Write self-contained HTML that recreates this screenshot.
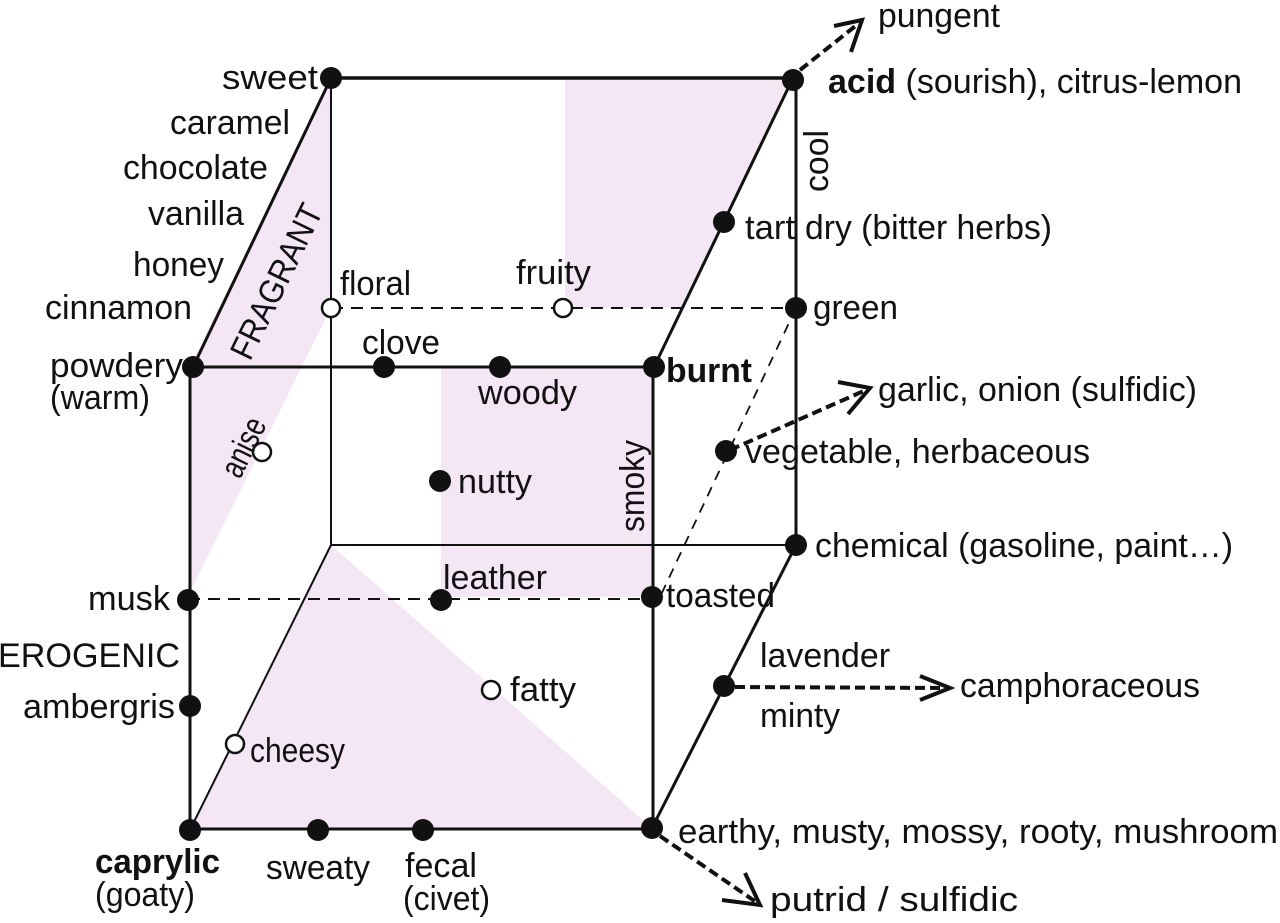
<!DOCTYPE html>
<html><head><meta charset="utf-8"><style>
html,body{margin:0;padding:0;background:#fff;}
svg{display:block;}
text{font-family:"Liberation Sans",Arial,sans-serif;font-size:34px;fill:#111;}
</style></head><body>
<svg width="1280" height="923" viewBox="0 0 1280 923" xmlns="http://www.w3.org/2000/svg">
<g fill="#f4e6f4" stroke="none">
<polygon points="331,78 331,308 190,592 190,367"/>
<polygon points="565,78 793,78 683,308 565,308"/>
<rect x="441" y="367" width="213" height="230"/>
<polygon points="331,545 652,828 190,830"/>
</g>
<g stroke="#111" fill="none">
<line x1="331" y1="78" x2="331" y2="545" stroke-width="2"/>
<line x1="331" y1="545" x2="796" y2="545" stroke-width="2"/>
<line x1="331" y1="545" x2="190" y2="830" stroke-width="2"/>
<line x1="331" y1="78" x2="793" y2="78" stroke-width="3.5"/>
<line x1="331" y1="78" x2="193" y2="367" stroke-width="3"/>
<line x1="793" y1="78" x2="654" y2="367" stroke-width="3"/>
<line x1="796" y1="78" x2="796" y2="545" stroke-width="3"/>
<line x1="796" y1="545" x2="652" y2="828" stroke-width="3"/>
<rect x="190" y="367" width="463" height="462" stroke-width="3"/>
<line x1="331" y1="308" x2="796" y2="308" stroke-width="2" stroke-dasharray="12,8"/>
<line x1="188" y1="599" x2="652" y2="599" stroke-width="2" stroke-dasharray="12,8"/>
<line x1="796" y1="308" x2="660" y2="597" stroke-width="1.8" stroke-dasharray="10,8"/>
<g stroke-width="4" stroke-dasharray="10,5">
<line x1="800" y1="70" x2="858" y2="24"/>
<line x1="730" y1="450" x2="866" y2="390"/>
<line x1="735" y1="687" x2="946" y2="688"/>
<line x1="660" y1="836" x2="756" y2="902"/>
</g>
<g stroke-width="4">
<polyline points="834,26 862,20 851,52"/>
<polyline points="838,382 870,388 848,414"/>
<polyline points="920,676 950,688 920,700"/>
<polyline points="745,873 760,905 722,900"/>
</g>
</g>
<g fill="#111">
<circle cx="331" cy="78" r="11"/><circle cx="793" cy="80" r="11"/>
<circle cx="724" cy="222" r="11"/><circle cx="796" cy="308" r="11"/>
<circle cx="193" cy="367" r="11"/><circle cx="384" cy="367" r="11"/>
<circle cx="500" cy="367" r="11"/><circle cx="654" cy="367" r="11"/>
<circle cx="440" cy="481" r="11"/><circle cx="726" cy="451" r="11"/>
<circle cx="796" cy="545" r="11"/><circle cx="188" cy="600" r="11"/>
<circle cx="441" cy="600" r="11"/><circle cx="652" cy="597" r="11"/>
<circle cx="190" cy="706" r="11"/><circle cx="724" cy="686" r="11"/>
<circle cx="190" cy="830" r="11"/><circle cx="318" cy="830" r="11"/>
<circle cx="423" cy="830" r="11"/><circle cx="652" cy="828" r="11"/>
</g>
<g fill="#fff" stroke="#111" stroke-width="2.5">
<circle cx="331" cy="308" r="9"/><circle cx="563" cy="308" r="9"/>
<circle cx="262" cy="452" r="9"/><circle cx="491" cy="690" r="9"/>
<circle cx="235" cy="744" r="9"/>
</g>
<g>
<text x="222" y="89" textLength="96" lengthAdjust="spacingAndGlyphs">sweet</text>
<text x="170" y="134" textLength="120" lengthAdjust="spacingAndGlyphs">caramel</text>
<text x="123" y="179" textLength="145" lengthAdjust="spacingAndGlyphs">chocolate</text>
<text x="148" y="225" textLength="96" lengthAdjust="spacingAndGlyphs">vanilla</text>
<text x="133" y="276" textLength="91" lengthAdjust="spacingAndGlyphs">honey</text>
<text x="45" y="319" textLength="147" lengthAdjust="spacingAndGlyphs">cinnamon</text>
<text x="50" y="377" textLength="133" lengthAdjust="spacingAndGlyphs">powdery</text>
<text x="50" y="409" textLength="100" lengthAdjust="spacingAndGlyphs">(warm)</text>
<text x="88" y="610" textLength="82" lengthAdjust="spacingAndGlyphs">musk</text>
<text x="-2" y="667" textLength="182" lengthAdjust="spacingAndGlyphs">EROGENIC</text>
<text x="23" y="718" textLength="152" lengthAdjust="spacingAndGlyphs">ambergris</text>
<text x="95" y="873" font-weight="bold" textLength="125" lengthAdjust="spacingAndGlyphs">caprylic</text>
<text x="95" y="906" textLength="100" lengthAdjust="spacingAndGlyphs">(goaty)</text>
<text x="266" y="879" textLength="104" lengthAdjust="spacingAndGlyphs">sweaty</text>
<text x="405" y="877" textLength="72" lengthAdjust="spacingAndGlyphs">fecal</text>
<text x="403" y="910" textLength="87" lengthAdjust="spacingAndGlyphs">(civet)</text>
<text x="250" y="762" textLength="95" lengthAdjust="spacingAndGlyphs">cheesy</text>
<text x="510" y="701" textLength="66" lengthAdjust="spacingAndGlyphs">fatty</text>
<text x="443" y="589" textLength="104" lengthAdjust="spacingAndGlyphs">leather</text>
<text x="666" y="607" textLength="109" lengthAdjust="spacingAndGlyphs">toasted</text>
<text x="458" y="493" textLength="74" lengthAdjust="spacingAndGlyphs">nutty</text>
<text x="478" y="404" textLength="99" lengthAdjust="spacingAndGlyphs">woody</text>
<text x="362" y="354" textLength="78" lengthAdjust="spacingAndGlyphs">clove</text>
<text x="340" y="295" textLength="71" lengthAdjust="spacingAndGlyphs">floral</text>
<text x="516" y="284" textLength="75" lengthAdjust="spacingAndGlyphs">fruity</text>
<text x="666" y="382" font-weight="bold" textLength="86" lengthAdjust="spacingAndGlyphs">burnt</text>
<text x="813" y="319" textLength="85" lengthAdjust="spacingAndGlyphs">green</text>
<text x="745" y="239" textLength="50" lengthAdjust="spacingAndGlyphs">tart</text>
<text x="805" y="239" textLength="247" lengthAdjust="spacingAndGlyphs">dry (bitter herbs)</text>
<text x="878" y="27" textLength="122" lengthAdjust="spacingAndGlyphs">pungent</text>
<text x="828" y="93" textLength="414" lengthAdjust="spacingAndGlyphs"><tspan font-weight="bold">acid</tspan> (sourish), citrus-lemon</text>
<text x="878" y="401" textLength="319" lengthAdjust="spacingAndGlyphs">garlic, onion (sulfidic)</text>
<text x="745" y="463" textLength="345" lengthAdjust="spacingAndGlyphs">vegetable, herbaceous</text>
<text x="815" y="557" textLength="418" lengthAdjust="spacingAndGlyphs">chemical (gasoline, paint…)</text>
<text x="760" y="667" textLength="130" lengthAdjust="spacingAndGlyphs">lavender</text>
<text x="760" y="727" textLength="80" lengthAdjust="spacingAndGlyphs">minty</text>
<text x="960" y="697" textLength="240" lengthAdjust="spacingAndGlyphs">camphoraceous</text>
<text x="678" y="843" textLength="600" lengthAdjust="spacingAndGlyphs">earthy, musty, mossy, rooty, mushroom</text>
<text x="770" y="911" textLength="248" lengthAdjust="spacingAndGlyphs">putrid / sulfidic</text>
<text transform="translate(828,192) rotate(-90)" textLength="62" lengthAdjust="spacingAndGlyphs">cool</text>
<text transform="translate(644,532) rotate(-90)" textLength="92" lengthAdjust="spacingAndGlyphs">smoky</text>
<text transform="translate(250,362) rotate(-64)" font-size="29" textLength="168" lengthAdjust="spacingAndGlyphs">FRAGRANT</text>
<text transform="translate(240,480) rotate(-64)" font-size="29" textLength="62" lengthAdjust="spacingAndGlyphs">anise</text>
</g>
</svg>
</body></html>
